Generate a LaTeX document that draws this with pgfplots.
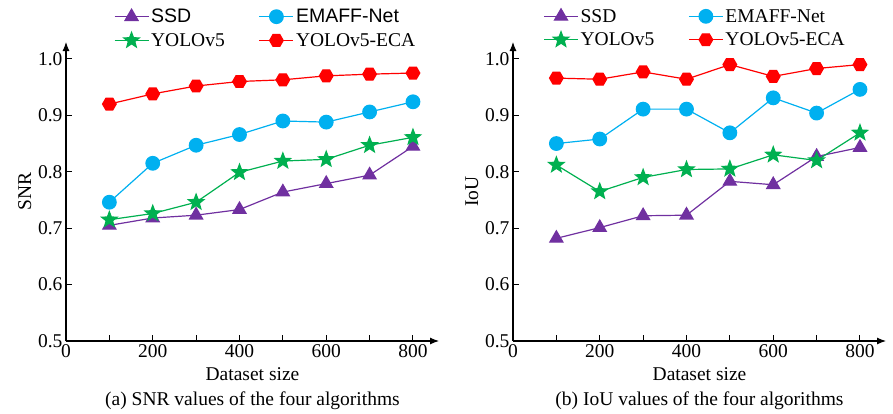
\documentclass[border=0pt]{standalone}
\usepackage{fontspec}
\setmainfont{Liberation Serif}
\newfontfamily\arial{Liberation Sans}
\usepackage{pgfplots}
\pgfplotsset{compat=1.18}
\usetikzlibrary{arrows.meta}
\definecolor{cpur}{RGB}{112,48,160}
\definecolor{cblu}{RGB}{0,176,240}
\definecolor{cgrn}{RGB}{0,176,80}
\definecolor{cred}{RGB}{255,0,0}
\pgfdeclareplotmark{hex*}{%
  \pgfpathmoveto{\pgfqpointpolar{0}{\pgfplotmarksize}}%
  \pgfpathlineto{\pgfqpointpolar{60}{\pgfplotmarksize}}%
  \pgfpathlineto{\pgfqpointpolar{120}{\pgfplotmarksize}}%
  \pgfpathlineto{\pgfqpointpolar{180}{\pgfplotmarksize}}%
  \pgfpathlineto{\pgfqpointpolar{240}{\pgfplotmarksize}}%
  \pgfpathlineto{\pgfqpointpolar{300}{\pgfplotmarksize}}%
  \pgfpathclose
  \pgfusepathqfillstroke}
\pgfdeclareplotmark{star5*}{%
  \pgfpathmoveto{\pgfqpointpolar{90}{\pgfplotmarksize}}%
  \pgfpathlineto{\pgfqpointpolar{126}{0.42\pgfplotmarksize}}%
  \pgfpathlineto{\pgfqpointpolar{162}{\pgfplotmarksize}}%
  \pgfpathlineto{\pgfqpointpolar{198}{0.42\pgfplotmarksize}}%
  \pgfpathlineto{\pgfqpointpolar{234}{\pgfplotmarksize}}%
  \pgfpathlineto{\pgfqpointpolar{270}{0.42\pgfplotmarksize}}%
  \pgfpathlineto{\pgfqpointpolar{306}{\pgfplotmarksize}}%
  \pgfpathlineto{\pgfqpointpolar{342}{0.42\pgfplotmarksize}}%
  \pgfpathlineto{\pgfqpointpolar{18}{\pgfplotmarksize}}%
  \pgfpathlineto{\pgfqpointpolar{54}{0.42\pgfplotmarksize}}%
  \pgfpathclose
  \pgfusepathqfillstroke}
\newcommand{\ff}{\fontsize{19.5}{23}\selectfont}
\pgfplotsset{
  mystyle/.style={
    scale only axis, width=373pt, height=299pt,
    xmin=0, xmax=860, ymin=0.5, ymax=1.03,
    axis lines=left,
    axis line style={line width=1.1pt, -{Latex[length=9pt,width=7pt]}},
    tick align=inside, major tick length=6pt,
    tick style={black, line width=1pt},
    xtick={0,100,...,800}, xticklabels={0,,200,,400,,600,,800},
    ytick={0.5,0.6,0.7,0.8,0.9,1.0},
    yticklabel style={/pgf/number format/.cd, fixed, fixed zerofill, precision=1},
    /pgf/number format/assume math mode=true,
    every tick label/.append style={font=\ff, black},
    label style={font=\ff},
    xlabel style={align=center, yshift=-3pt},
    legend columns=2,
    legend cell align=left,
    legend style={draw=none, fill=none, font=\ff, anchor=north,
      /tikz/every even column/.append style={column sep=32pt},
      row sep=5pt},
    legend image code/.code={\draw[mark repeat=2,mark phase=2] plot coordinates {(0pt,0pt) (17pt,0pt) (34pt,0pt)};},
    every axis plot/.append style={line width=1.2pt},
  },
  sA/.style={color=cpur, mark=triangle*, mark size=7.5pt},
  sB/.style={color=cblu, mark=*, mark size=6.8pt},
  sC/.style={color=cgrn, mark=star5*, mark size=8pt, mark options={fill=cgrn}},
  sD/.style={color=cred, mark=hex*, mark size=6.8pt},
}
\begin{document}
\begin{tikzpicture}
\path (-66pt,-71pt) rectangle (827pt,341pt);
\begin{axis}[mystyle, at={(0pt,0pt)}, anchor=origin,
  ylabel={SNR},
  xlabel={Dataset size\\[2pt](a) SNR values of the four algorithms},
  legend style={at={(0.535,1.124)}}]
\addplot[sA] coordinates {(100,0.705)(200,0.718)(300,0.723)(400,0.733)(500,0.764)(600,0.779)(700,0.794)(800,0.845)};
\addlegendentry{\arial SSD}
\addplot[sB] coordinates {(100,0.746)(200,0.815)(300,0.847)(400,0.866)(500,0.890)(600,0.888)(700,0.906)(800,0.924)};
\addlegendentry{\arial EMAFF-Net}
\addplot[sC] coordinates {(100,0.715)(200,0.726)(300,0.746)(400,0.799)(500,0.819)(600,0.822)(700,0.847)(800,0.861)};
\addlegendentry{YOLOv5}
\addplot[sD] coordinates {(100,0.920)(200,0.938)(300,0.952)(400,0.960)(500,0.963)(600,0.970)(700,0.973)(800,0.975)};
\addlegendentry{YOLOv5-ECA}
\end{axis}
\begin{axis}[mystyle, at={(447pt,0pt)}, anchor=origin,
  ylabel={IoU},
  xlabel={Dataset size\\[2pt](b) IoU values of the four algorithms},
  legend style={at={(0.488,1.124)}}]
\addplot[sA] coordinates {(100,0.682)(200,0.701)(300,0.722)(400,0.723)(500,0.783)(600,0.777)(700,0.827)(800,0.843)};
\addlegendentry{SSD}
\addplot[sB] coordinates {(100,0.850)(200,0.858)(300,0.911)(400,0.911)(500,0.869)(600,0.931)(700,0.904)(800,0.946)};
\addlegendentry{EMAFF-Net}
\addplot[sC] coordinates {(100,0.812)(200,0.765)(300,0.790)(400,0.804)(500,0.805)(600,0.830)(700,0.820)(800,0.869)};
\addlegendentry{YOLOv5}
\addplot[sD] coordinates {(100,0.966)(200,0.964)(300,0.977)(400,0.964)(500,0.990)(600,0.969)(700,0.983)(800,0.990)};
\addlegendentry{YOLOv5-ECA}
\end{axis}
\end{tikzpicture}
\end{document}
